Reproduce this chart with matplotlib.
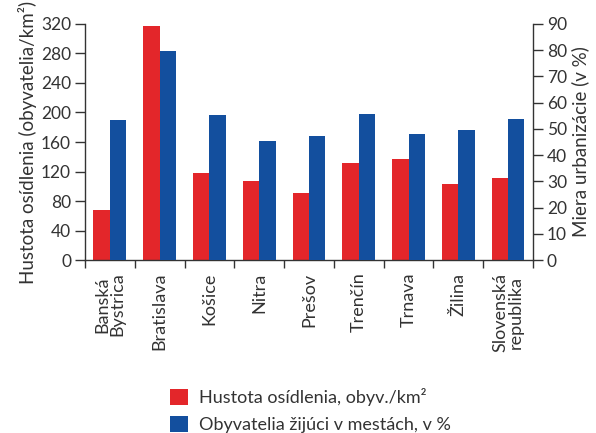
import matplotlib
matplotlib.use('Agg')
import matplotlib.pyplot as plt
import numpy as np

plt.rcParams['font.family'] = ['Lato', 'DejaVu Sans']

regiony = ['Banská\nBystrica', 'Bratislava', 'Košice', 'Nitra', 'Prešov',
           'Trenčín', 'Trnava', 'Žilina', 'Slovenská\nrepublika']
hustota = [68, 317, 118, 107, 91, 131, 137, 103, 111]        # obyv./km2
urbanizacia = [53.4, 79.7, 55.3, 45.4, 47.3, 55.7, 48.1, 49.6, 53.8]  # v %

cervena = '#e3262a'
modra = '#134f9e'
sedy = '#333333'

fig = plt.figure(figsize=(5.96, 4.33), dpi=100)
ax = fig.add_axes([0.1426, 0.3995, 0.7516, 0.5451])
ax2 = ax.twinx()

x = np.arange(len(regiony)) + 0.5
w = 0.33
b1 = ax.bar(x - w / 2, hustota, w, color=cervena, label='Hustota osídlenia, obyv./km²')
b2 = ax2.bar(x + w / 2, urbanizacia, w, color=modra, label='Obyvatelia žijúci v mestách, v %')

ax.set_xlim(0, len(regiony))
ax.set_ylim(0, 320)
ax.set_yticks(np.arange(0, 321, 40))
ax2.set_ylim(0, 90)
ax2.set_yticks(np.arange(0, 91, 10))

# hlavne ticky na hraniciach skupin, popisky v strede
ax.set_xticks(np.arange(0, len(regiony) + 1))
ax.set_xticklabels([])
ax.set_xticks(x, minor=True)
ax.set_xticklabels(regiony, minor=True, rotation=90, va='top', ha='center',
                   fontsize=13, color=sedy, linespacing=0.95)
ax.tick_params(axis='x', which='minor', length=0, pad=9)
ax.tick_params(axis='x', which='major', length=6, width=1, color=sedy, direction='out')

for a in (ax, ax2):
    a.tick_params(axis='y', length=7, width=1, color=sedy, labelsize=12.5,
                  labelcolor=sedy, pad=3)
    a.spines['top'].set_visible(False)
    for s in a.spines.values():
        s.set_color(sedy)
        s.set_linewidth(1)
ax2.spines['left'].set_visible(False)
ax2.spines['bottom'].set_visible(False)
ax.spines['right'].set_visible(False)

ax.set_ylabel('Hustota osídlenia (obyvatelia/km²)', fontsize=13.5, color=sedy, labelpad=3)
ax2.set_ylabel('Miera urbanizácie (v %)', fontsize=13.5, color=sedy, labelpad=3)

fig.legend(handles=[b1, b2], loc='upper center', bbox_to_anchor=(0.521, 0.104),
           frameon=False, fontsize=13, labelcolor=sedy, handlelength=1.0,
           handleheight=1.0, handletextpad=0.6, labelspacing=0.55,
           borderaxespad=0, borderpad=0)

fig.savefig('out.png', dpi=100)
